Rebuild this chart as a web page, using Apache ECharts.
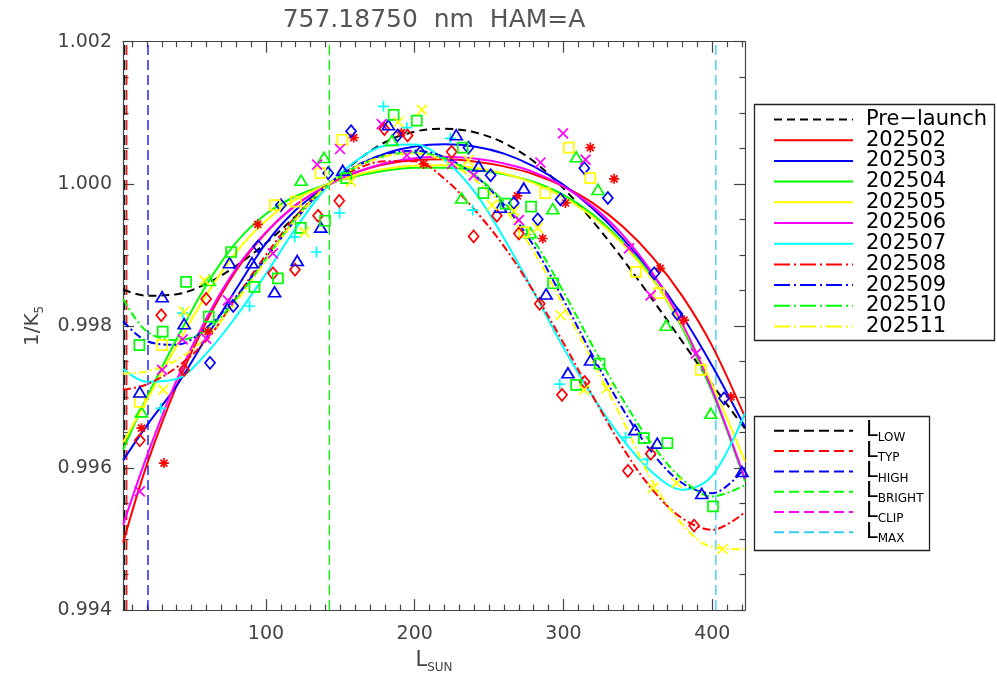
<!DOCTYPE html>
<html>
<head>
<meta charset="utf-8">
<script src="https://cdn.jsdelivr.net/npm/echarts@6/dist/echarts.min.js"></script>
<style>html,body{margin:0;padding:0;background:#fff;}#c{width:997px;height:679px;}</style>
</head>
<body>
<div id="c"></div>
<script>
// ---------- axis ranges and ticks ----------
const xMin = 3.9, xMax = 422;
const yMin = 0.994, yMax = 1.002;
const xMajorTicks = [100, 200, 300, 400];
const xMinorTicks = [10,20,30,40,50,60,70,80,90,110,120,130,140,150,160,170,180,190,210,220,230,240,250,260,270,280,290,310,320,330,340,350,360,370,380,390,410,420];
const yMajorTicks = [0.994, 0.996, 0.998, 1.000, 1.002];
const yMinorTicks = [0.9945,0.995,0.9955,0.9965,0.997,0.9975,0.9985,0.999,0.9995,1.0005,1.001,1.0015];

// ---------- fitted curves ----------
const curveL = [4, 20, 40, 60, 80, 100, 120, 140, 160, 180, 200, 220, 240, 260, 280, 300, 320, 340, 360, 380, 400, 422];
const preLaunch = [0.998510,0.998425,0.998445,0.998595,0.998845,0.999165,0.999545,0.999945,1.000305,1.000585,1.000735,1.000775,1.000725,1.000575,1.000315,0.999935,0.999465,0.998935,0.998365,0.997775,0.997175,0.996555];
const c202502 = [0.99495,0.99605,0.99716,0.99806,0.99878,0.99931,0.99970,0.99996,1.000155,1.000275,1.000335,1.000345,1.000315,1.000245,1.000135,0.999965,0.999725,0.999395,0.998965,0.998415,0.997715,0.996715];
const c202503 = [0.99611,0.99660,0.99716,0.99784,0.99852,0.99916,0.99963,0.999958,1.000235,1.000425,1.000525,1.000555,1.000525,1.000425,1.000245,0.999985,0.999645,0.999225,0.998725,0.998135,0.997435,0.996575];
const c202504 = [0.99626,0.996995,0.997815,0.998575,0.999175,0.999575,0.999825,0.999985,1.000105,1.000185,1.000225,1.000225,1.000195,1.000135,1.000025,0.999845,0.999565,0.999175,0.998665,0.997965,0.997065,0.995815];
const c202505 = [0.99636,0.99696,0.99772,0.99844,0.99904,0.99948,0.99978,0.99998,1.00012,1.00021,1.000255,1.00026,1.000225,1.000145,1.00001,0.99981,0.99953,0.99915,0.99865,0.99800,0.99717,0.99609];
const c202506 = [0.99520,0.99617,0.99724,0.99811,0.99881,0.99932,0.99970,0.999965,1.00016,1.00029,1.00036,1.00038,1.000355,1.000285,1.000165,0.999965,0.999675,0.999275,0.998735,0.998025,0.997095,0.995845];
const c202507 = [0.997394,0.997214,0.997254,0.997614,0.998134,0.998734,0.999374,0.999934,1.000314,1.000534,1.000554,1.000334,0.999894,0.999234,0.998474,0.997694,0.996994,0.996394,0.995934,0.995694,0.995894,0.996774];
const c202508 = [0.99710,0.997178,0.997418,0.997798,0.998398,0.998998,0.999538,0.999958,1.000198,1.000318,1.000318,1.00007,0.99964,0.99912,0.99848,0.99776,0.99700,0.99628,0.99569,0.99529,0.99513,0.99538];
const c202509 = [0.998065,0.997785,0.997735,0.997975,0.998415,0.998955,0.999495,0.999955,1.000245,1.000415,1.000465,1.000375,1.000125,0.999705,0.999125,0.998365,0.997565,0.996825,0.996205,0.995785,0.995645,0.996005];
const c202510 = [0.99838,0.99792,0.99780,0.99794,0.99838,0.99894,0.99952,0.999955,1.00023,1.00039,1.00044,1.00036,1.00013,0.99974,0.99920,0.99848,0.99770,0.99696,0.99632,0.99584,0.99560,0.99576];
const c202511 = [0.99733,0.99736,0.99752,0.99784,0.99834,0.99892,0.99950,0.999955,1.000235,1.000385,1.000425,1.000325,1.000065,0.999665,0.999045,0.998285,0.997485,0.996665,0.995805,0.995205,0.994885,0.994855];

// ---------- measured points [L_SUN, 1/K5] ----------
const p202502 = [[16.3,0.99656],[31.4,0.99607],[61,0.99792],[94.5,0.99943],[159,1.00065],[191,1.00072],[206,1.00028],[269,0.99983],[286,0.99923],[301.4,0.99973],[318,1.00051],[334,1.00007],[365,0.99881],[381,0.99808],[412.5,0.99700]];
const p202503 = [[62.4,0.99748],[78,0.99828],[94.8,0.99912],[110,0.99970],[141.8,1.00015],[157.2,1.00074],[188.4,1.00068],[203.7,1.00044],[236.1,1.00051],[251,1.00012],[266.6,0.99973],[282.7,0.99950],[298,0.99978],[314,1.00022],[329.8,0.99980],[361,0.99874],[376.5,0.99817],[407.9,0.99698]];
const p202504 = [[16.3,0.99679],[61.8,0.99864],[123.6,1.00005],[139,1.00037],[184.6,1.00061],[231.5,0.99980],[277.8,0.99931],[292.8,0.99965],[308.6,1.00038],[323.2,0.99992],[369,0.99801],[399,0.99677]];
const p202505 = [[15.2,0.99693],[30.2,0.99773],[106,0.99970],[120.2,0.99975],[136.6,1.00015],[151.4,1.00062],[273.3,0.99932],[287.7,0.99987],[303.6,1.00051],[318,1.00008],[348.8,0.99876],[364.2,0.99846],[392.3,0.99738]];
const p202506 = [[15.2,0.99567],[30.2,0.99738],[44,0.99781],[59.8,0.99782],[74.4,0.99836],[104.7,0.99902],[134.4,1.00027],[149.8,1.00049],[177.8,1.00084],[194.7,1.00040],[225,1.00028],[239.6,1.00012],[270,0.99949],[284.5,1.00030],[299.7,1.00071],[314.8,1.00034],[344,0.99909],[358.6,0.99843],[389,0.99761]];
const p202507 = [[29.4,0.99684],[44,0.99818],[89,0.99828],[119.3,0.99925],[133.9,0.99904],[149.5,0.99959],[179,1.00109],[194.7,1.00079],[223.9,1.00064],[239,0.99963],[297.5,0.99718],[341.8,0.99643],[356.3,0.99612]];
const p202508 = [[15.2,0.99639],[29.6,0.99815],[45,0.99738],[59.8,0.99838],[104.7,0.99874],[119.5,0.99879],[135,0.99955],[149.3,0.99976],[179.6,1.00077],[195.2,1.00068],[224.8,1.00045],[239.6,0.99926],[255.2,0.99955],[270,0.99930],[284,0.99831],[299,0.99703],[314.2,0.99721],[343.3,0.99596],[358.6,0.99620],[387.8,0.99519]];
const p202509 = [[15.2,0.99707],[30.2,0.99841],[45,0.99803],[75.5,0.99889],[90.6,0.99889],[105.8,0.99848],[121,0.99892],[136.8,0.99939],[151.6,1.00019],[182.3,1.00083],[227.9,1.00069],[243,1.00025],[257.6,0.99967],[273.3,0.99994],[288.3,0.99845],[303,0.99734],[318.2,0.99752],[348,0.99654],[363,0.99635],[392.9,0.99564],[420,0.99595]];
const p202510 = [[14.9,0.99773],[30.6,0.99792],[46.3,0.99862],[61.6,0.99813],[76.6,0.99904],[92.3,0.99855],[108,0.99867],[123.4,0.99938],[139.7,0.99948],[153.9,1.00008],[185.8,1.00097],[201.4,1.00089],[232.3,1.00051],[246.2,0.99987],[261,0.99972],[278.2,0.99968],[293,0.99860],[308.5,0.99717],[324.2,0.99747],[354,0.99642],[369.8,0.99635],[400.5,0.99546]];
const p202511 = [[30.9,0.99710],[45,0.99820],[58.6,0.99864],[126,0.99932],[157.2,1.00003],[189,1.00087],[204.8,1.00104],[236,1.00033],[252,0.99970],[266.6,0.99962],[282.7,0.99938],[298,0.99815],[313.7,0.99710],[329,0.99712],[360.2,0.99572],[376,0.99579],[406.9,0.99486]];

// ---------- reference radiance levels ----------
const refNames = ['L_LOW', 'L_TYP', 'L_HIGH', 'L_BRIGHT', 'L_CLIP', 'L_MAX'];
const refL = [5.05, 6.4, 20.7, 142.6, null, 402.4];

const months = ['202502','202503','202504','202505','202506','202507','202508','202509','202510','202511'];
const preName = 'Pre\u2212launch';
const titleText = '757.18750  nm  HAM=A';

// ---------- styles ----------
const monthCurves = [c202502,c202503,c202504,c202505,c202506,c202507,c202508,c202509,c202510,c202511];
const monthPoints = [p202502,p202503,p202504,p202505,p202506,p202507,p202508,p202509,p202510,p202511];
const monthColors = ['#ff0000','#0000ff','#00ff00','#ffff00','#ff00ff','#00ffff','#ff0000','#0000ff','#00ff00','#ffff00'];
const dashDot = [8,3,2,3];
const monthLine = ['solid','solid','solid','solid','solid','solid',dashDot,dashDot,dashDot,dashDot];
const symAsterisk = 'path://M5,0L5,10M0,5L10,5M1.5,1.5L8.5,8.5M8.5,1.5L1.5,8.5';
const symDiamond = 'path://M5,0L10,6L5,12L0,6Z';
const symX = 'path://M0,0L10,10M10,0L0,10';
const symPlus = 'path://M5,0L5,10M0,5L10,5';
const monthSym = [symAsterisk, symDiamond, 'triangle', 'rect', symX, symPlus, symDiamond, 'triangle', 'rect', symX];
const monthSymSize = [10, [10,12], [12,10], 10, 10, 11, [10,12], [12,10], 10, 10];
const refColors = ['#000000','#ff0000','#0000ff','#00ff00','#ff00ff','#33ccf5'];

const FONT = 'DejaVu Sans';
const AX = '#444';

const series = [];
refNames.forEach((n, i) => {
  series.push({
    type: 'line', name: n, silent: true, symbol: 'none', z: 2,
    data: refL[i] == null ? [] : [[refL[i], yMin], [refL[i], yMax]],
    lineStyle: {color: refColors[i], width: 1.3, type: [10, 5]},
    itemStyle: {color: refColors[i]}
  });
});
series.push({
  type: 'line', name: preName, silent: true, symbol: 'none', z: 3, smooth: 0.35,
  data: curveL.map((x, i) => [x, preLaunch[i]]),
  lineStyle: {color: '#000', width: 2, type: [8, 5]},
  itemStyle: {color: '#000'}
});
months.forEach((m, k) => {
  series.push({
    type: 'line', name: m, silent: true, symbol: 'none', z: 3, smooth: 0.35,
    data: curveL.map((x, i) => [x, monthCurves[k][i]]),
    lineStyle: {color: monthColors[k], width: 2, type: monthLine[k]},
    itemStyle: {color: monthColors[k]}
  });
});
months.forEach((m, k) => {
  series.push({
    type: 'scatter', name: m + ' pts', silent: true, z: 4,
    data: monthPoints[k],
    symbol: monthSym[k], symbolSize: monthSymSize[k],
    itemStyle: {color: 'rgba(0,0,0,0)', borderColor: monthColors[k], borderWidth: 1.7, opacity: 1}
  });
});

function xAxisDef(pos, ticks, len, showLine, showLabel) {
  return {
    type: 'value', min: xMin, max: xMax, position: pos, gridIndex: 0,
    axisLine: {show: showLine, onZero: false, lineStyle: {color: AX, width: 1.2}},
    axisTick: {show: true, inside: true, length: len, customValues: ticks, lineStyle: {color: AX, width: 1.2}},
    axisLabel: {show: showLabel, customValues: ticks, margin: 14, fontFamily: FONT, fontSize: 19, color: AX},
    splitLine: {show: false}, minorTick: {show: false}
  };
}
function yAxisDef(pos, ticks, len, showLine, showLabel) {
  return {
    type: 'value', min: yMin, max: yMax, position: pos, gridIndex: 0,
    axisLine: {show: showLine, onZero: false, lineStyle: {color: AX, width: 1.2}},
    axisTick: {show: true, inside: true, length: len, customValues: ticks, lineStyle: {color: AX, width: 1.2}},
    axisLabel: {show: showLabel, customValues: ticks, margin: 11, fontFamily: FONT, fontSize: 19, color: AX,
      formatter: v => v.toFixed(3)},
    splitLine: {show: false}, minorTick: {show: false}
  };
}

const xMain = xAxisDef('bottom', xMajorTicks, 11, true, true);
xMain.name = '{m|L}{s|SUN}';
xMain.nameLocation = 'middle';
xMain.nameGap = 37;
xMain.nameTextStyle = {fontFamily: FONT, color: AX, rich: {
  m: {fontFamily: FONT, fontSize: 21, lineHeight: 20, color: AX},
  s: {fontFamily: FONT, fontSize: 12, lineHeight: 12, padding: [14, 0, 0, 0], color: AX}
}};
const yMain = yAxisDef('left', yMajorTicks, 11, true, true);
yMain.name = '{m|1/K}{s|5}';
yMain.nameLocation = 'middle';
yMain.nameGap = 80;
yMain.nameTextStyle = {fontFamily: FONT, color: AX, rich: {
  m: {fontFamily: FONT, fontSize: 20, lineHeight: 20, color: AX},
  s: {fontFamily: FONT, fontSize: 12, lineHeight: 12, padding: [14, 0, 0, 0], color: AX}
}};

const option = {
  animation: false,
  backgroundColor: '#ffffff',
  grid: {left: 123, top: 41.7, width: 622, height: 569.3, containLabel: false},
  xAxis: [
    xMain,
    xAxisDef('bottom', xMinorTicks, 5.5, false, false),
    xAxisDef('top', xMajorTicks, 11, true, false),
    xAxisDef('top', xMinorTicks, 5.5, false, false)
  ],
  yAxis: [
    yMain,
    yAxisDef('left', yMinorTicks, 5.5, false, false),
    yAxisDef('right', yMajorTicks, 11, true, false),
    yAxisDef('right', yMinorTicks, 5.5, false, false)
  ],
  legend: [
    {
      data: [preName].concat(months).map(n => n === '202508' || n === '202509' || n === '202510' || n === '202511'
        ? {name: n, lineStyle: {type: [16, 4, 2, 4]}} : {name: n}),
      orient: 'vertical', left: 773, top: 109, padding: 0,
      itemWidth: 79, itemHeight: 20, itemGap: -0.3, selectedMode: false,
      itemStyle: {opacity: 0}, lineStyle: {width: 2},
      textStyle: {fontFamily: FONT, fontSize: 21, lineHeight: 20, color: '#000', padding: [0, 0, 0, 8]}
    },
    {
      data: refNames.map(n => ({name: n})),
      orient: 'vertical', left: 773, top: 417.8, padding: 0,
      itemWidth: 79, itemHeight: 20, itemGap: -5.7, selectedMode: false,
      itemStyle: {opacity: 0}, lineStyle: {width: 2},
      formatter: n => '{m|L}{s|' + n.split('_')[1] + '}',
      textStyle: {fontFamily: FONT, color: '#000', padding: [0, 0, 0, 8], rich: {
        m: {fontFamily: FONT, fontSize: 21, lineHeight: 20, color: '#000'},
        s: {fontFamily: FONT, fontSize: 12, lineHeight: 12, padding: [14, 0, 0, 0], color: '#000'}
      }}
    }
  ],
  graphic: [
    {type: 'text', x: 434, y: 20, z: 10, style: {text: titleText, fontFamily: FONT, fontSize: 25, fill: '#555', align: 'center', verticalAlign: 'middle'}},
    {type: 'rect', shape: {x: 754.5, y: 104.5, width: 240, height: 236}, style: {fill: 'none', stroke: '#222', lineWidth: 1.3}, z: 1},
    {type: 'rect', shape: {x: 754.5, y: 416.5, width: 175, height: 134}, style: {fill: 'none', stroke: '#222', lineWidth: 1.3}, z: 1}
  ],
  series: series
};

const chart = echarts.init(document.getElementById('c'), null, {renderer: 'canvas', width: 997, height: 679});
chart.setOption(option);
</script>
</body>
</html>
